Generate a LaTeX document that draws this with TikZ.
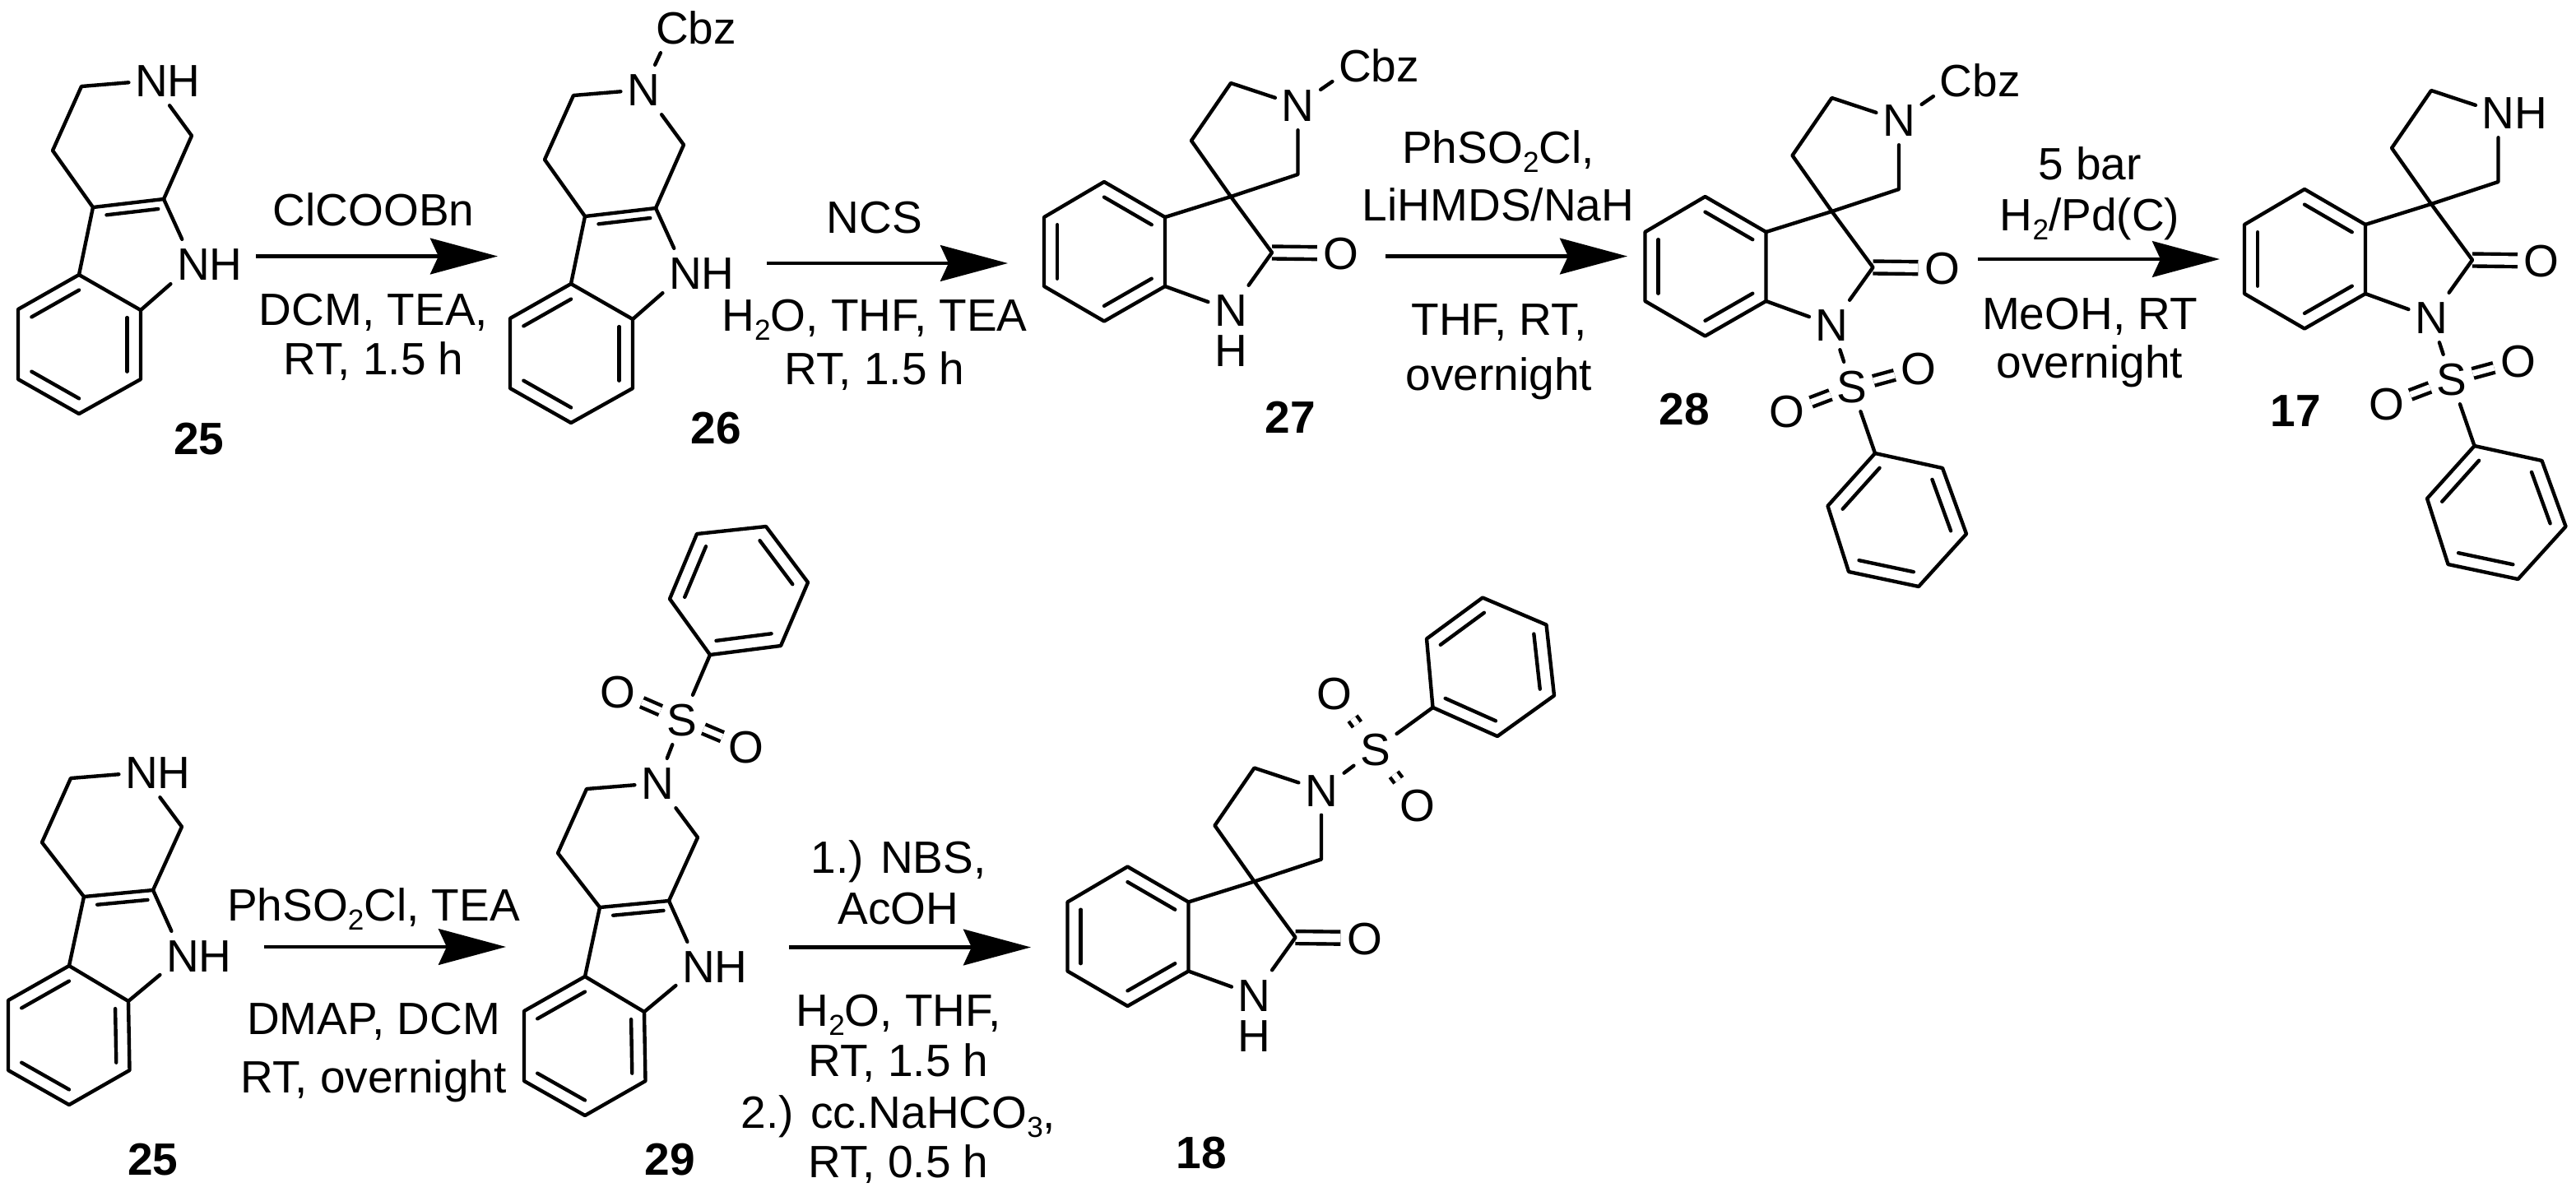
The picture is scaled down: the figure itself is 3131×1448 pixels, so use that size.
\documentclass[tikz,border=0pt]{standalone}
\usepackage{fontspec}
\setmainfont{Liberation Sans}
\usetikzlibrary{calc,arrows.meta}
\tikzset{
  bond/.style={line width=1.25pt,line cap=round,line join=round},
  cobond/.style={bond,double,double distance=3pt,line cap=butt},
  sobond/.style={bond,double,double distance=2.1pt,line cap=butt},
  atom/.style={font=\fontsize{15.65pt}{17pt}\selectfont,text height=11.2pt,text depth=0pt,inner xsep=2pt,inner ysep=2.8pt},
  rgt/.style={font=\fontsize{15.65pt}{17pt}\selectfont,text height=11.2pt,text depth=0pt,inner sep=0pt},
  cmpd/.style={rgt,font=\fontsize{15.65pt}{17pt}\selectfont\bfseries},
  rxn/.style={line width=1.4pt,-{Stealth[length=23.3pt,width=12.4pt,inset=2.8pt]}},
}
\newcommand{\sbs}[1]{\raisebox{-3.1pt}{\fontsize{10pt}{10pt}\selectfont #1}}
\newcommand{\innerbond}[3]{\draw[bond] ($(#1)!.22!(#3)$) -- ($(#2)!.22!(#3)$);}
\newcommand{\benzring}[7]{
  \coordinate (#11) at #2; \coordinate (#12) at #3; \coordinate (#13) at #4;
  \coordinate (#14) at #5; \coordinate (#15) at #6; \coordinate (#16) at #7;
  \coordinate (#1c) at ($(#11)!.5!(#14)$);
  \draw[bond] (#11)--(#12)--(#13)--(#14)--(#15)--(#16)--cycle;
  \innerbond{#11}{#12}{#1c} \innerbond{#13}{#14}{#1c} \innerbond{#15}{#16}{#1c}
}
\newcommand{\carbolinebonds}{
  \draw[bond] (b2)--(c3a) (c3a)--(c4)--(c3)--(n2) (n2)--(c1)--(c9a)--(ni) (ni)--(b3);
  \draw[bond] (c3a)--(c9a);
  \coordinate (pc) at ($(c3a)!.5!(ni)$);
  \draw[bond] ($(c3a)!.27!(pc)$) -- ($(c9a)!.27!(pc)$);
}
\newcommand{\carbolineup}[1]{
  \benzring{b}{(22,376)}{(96,334)}{(171,377)}{(171,461)}{(96,503)}{(22,461)}
  \coordinate (c3a) at (113,252);
  \coordinate (c9a) at (199,242);
  \coordinate (c4) at (64,183);
  \coordinate (c3) at (99,105);
  \coordinate (c1) at (233,165);
  \node[atom] (n2) at (184,98) {#1};
  \node[atom] (ni) at (235,321) {N\rlap{H}};
  \carbolinebonds
}
\newcommand{\carbolinedown}[1]{
  \benzring{b}{(10,1216)}{(84,1174)}{(156,1217)}{(157.5,1301)}{(84,1343)}{(10,1301)}
  \coordinate (c3a) at (102,1090);
  \coordinate (c9a) at (186,1082);
  \coordinate (c4) at (51,1024);
  \coordinate (c3) at (86,946);
  \coordinate (c1) at (221,1005);
  \node[atom] (n2) at (172,939) {#1};
  \node[atom] (ni) at (222,1162) {N\rlap{H}};
  \carbolinebonds
}
\newcommand{\spirocore}[1]{
  \coordinate (co) at (1546,307);
  \node[atom] (ox) at (1630,308) {O};
  \draw[cobond] (co)--(ox);
  \benzring{b}{(1342,221)}{(1416,264)}{(1416,348)}{(1342,390.5)}{(1269,348)}{(1269,264)}
  \coordinate (sp) at (1496,239);
  \coordinate (p1) at (1448,171);
  \coordinate (p2) at (1496,101);
  \coordinate (p3) at (1577.5,212);
  \node[atom] (np) at (1577.5,128) {#1};
  \node[atom] (ni) at (1496,377) {N};
  \draw[bond] (b2)--(sp)--(p1)--(p2)--(np) (np)--(p3)--(sp)--(co)--(ni) (ni)--(b3);
}
\newcommand{\nsulfonyl}{
  \node[atom] (s) at (1520.5,452) {S};
  \node[atom] (o1) at (1601.5,430) {O};
  \node[atom] (o2) at (1441.5,482) {O};
  \draw[sobond] (s)--(o1);
  \draw[sobond] (s)--(o2);
  \benzring{f}{(1630.5,551)}{(1659.5,631)}{(1601.5,695)}{(1516.5,677)}{(1491,597)}{(1548.5,533)}
  \draw[bond] (ni)--(s) (s)--(f6);
}
\begin{document}
\begin{tikzpicture}[x=0.01cm,y=-0.01cm]
\useasboundingbox (0,0) rectangle (3131,1448);

\begin{scope}[name prefix=m25-]
  \carbolineup{N\rlap{H}}
\end{scope}
\begin{scope}[name prefix=m26-,shift={(598,11)}]
  \carbolineup{N}
  \node[atom] (cz) at (219,23) {C\rlap{bz}};
  \draw[bond] (n2)--(cz);
\end{scope}
\begin{scope}[name prefix=m27-]
  \spirocore{N}
  \node[atom] (cz) at (1647,80) {C\rlap{bz}};
  \node[atom] (h) at (1496,426) {H};
  \draw[bond] (np)--(cz);
\end{scope}
\begin{scope}[name prefix=m28-,shift={(730.5,18)}]
  \spirocore{N}
  \node[atom] (cz) at (1647,80) {C\rlap{bz}};
  \draw[bond] (np)--(cz);
  \nsulfonyl
\end{scope}
\begin{scope}[name prefix=m17-,shift={(1459,9)}]
  \spirocore{N\rlap{H}}
  \nsulfonyl
\end{scope}
\begin{scope}[name prefix=n25-]
  \carbolinedown{N\rlap{H}}
\end{scope}
\begin{scope}[name prefix=m29-,shift={(627,13)}]
  \carbolinedown{N}
  \node[atom] (s) at (202,862) {S};
  \node[atom] (o1) at (124,828) {O};
  \node[atom] (o2) at (280,895) {O};
  \draw[sobond] (s)--(o1);
  \draw[sobond] (s)--(o2);
  \benzring{f}{(236,783)}{(322,772)}{(355,695)}{(304,627)}{(220,636)}{(187,715)}
  \draw[bond] (n2)--(s) (s)--(f1);
\end{scope}
\begin{scope}[name prefix=m18-,shift={(28.5,832.5)}]
  \spirocore{N}
  \node[atom] (h) at (1496,426) {H};
  \node[atom] (s) at (1643,78.5) {S};
  \node[atom] (o1) at (1593.5,10.5) {O};
  \node[atom] (o2) at (1694,146.5) {O};
  \draw[sobond] (s)--(o1);
  \draw[sobond] (s)--(o2);
  \benzring{f}{(1713,27.5)}{(1791.5,62.5)}{(1860.5,13)}{(1851,-73)}{(1773.5,-106)}{(1705.5,-56)}
  \draw[bond] (np)--(s) (s)--(f1);
\end{scope}

\node[cmpd] (l25) at (242,533) {25};
\node[cmpd] (l26) at (870,520) {26};
\node[cmpd] (l27) at (1568,507) {27};
\node[cmpd] (l28) at (2047,497) {28};
\node[cmpd] (l17) at (2790,499) {17};
\node[cmpd] (l25b) at (186,1409) {25};
\node[cmpd] (l29) at (814,1409) {29};
\node[cmpd] (l18) at (1460,1401) {18};

\coordinate (a1s) at (311,311.5);
\coordinate (a1e) at (605,311.5);
\coordinate (a2s) at (932,320);
\coordinate (a2e) at (1225,320);
\coordinate (a3s) at (1684,311.5);
\coordinate (a3e) at (1978,311.5);
\coordinate (a4s) at (2404,315);
\coordinate (a4e) at (2698,315);
\coordinate (a5s) at (321,1151);
\coordinate (a5e) at (615,1151);
\coordinate (a6s) at (959,1151.5);
\coordinate (a6e) at (1253,1151.5);
\draw[rxn] (a1s)--(a1e);
\draw[rxn] (a2s)--(a2e);
\draw[rxn] (a3s)--(a3e);
\draw[rxn] (a4s)--(a4e);
\draw[rxn] (a5s)--(a5e);
\draw[rxn] (a6s)--(a6e);

\node[rgt] (t1a) at (454,254.5) {ClCOOBn};
\node[rgt] (t1b) at (454,375.5) {DCM, TEA,};
\node[rgt] (t1c) at (454,436) {RT, 1.5 h};
\node[rgt] (t2a) at (1063,264) {NCS};
\node[rgt] (t2b) at (1063,383) {H\sbs{2}O, THF, TEA};
\node[rgt] (t2c) at (1063,448) {RT, 1.5 h};
\node[rgt] (t3a) at (1821,179) {PhSO\sbs{2}Cl,};
\node[rgt] (t3b) at (1821,249) {LiHMDS/NaH};
\node[rgt] (t3c) at (1822,388) {THF, RT,};
\node[rgt] (t3d) at (1822,455) {overnight};
\node[rgt] (t4a) at (2540,199) {5 bar};
\node[rgt] (t4b) at (2540,261) {H\sbs{2}/Pd(C)};
\node[rgt] (t4c) at (2540,381) {MeOH, RT};
\node[rgt] (t4d) at (2540,440) {overnight};
\node[rgt] (t5a) at (454,1099.5) {PhSO\sbs{2}Cl, TEA};
\node[rgt] (t5b) at (454,1238) {DMAP, DCM};
\node[rgt] (t5c) at (454,1309) {RT, overnight};
\node[rgt] (t6a) at (1092,1042) {1.) NBS,};
\node[rgt] (t6b) at (1092,1104) {AcOH};
\node[rgt] (t6c) at (1092,1228) {H\sbs{2}O, THF,};
\node[rgt] (t6d) at (1092,1289) {RT, 1.5 h};
\node[rgt] (t6e) at (1092,1352) {2.) cc.NaHCO\sbs{3},};
\node[rgt] (t6f) at (1092,1412) {RT, 0.5 h};
\end{tikzpicture}
\end{document}
